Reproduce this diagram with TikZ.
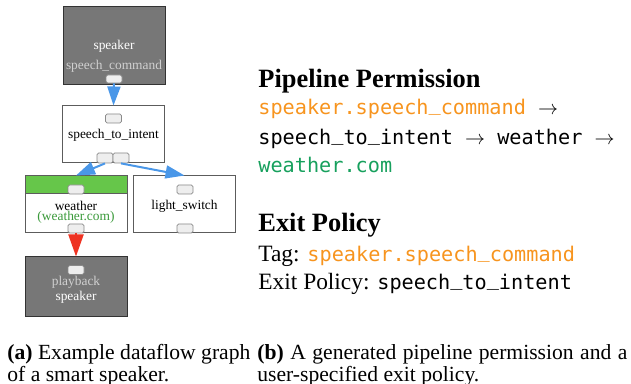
\documentclass[tikz,border=0pt]{standalone}
\usepackage{fontspec}
\setmainfont{Liberation Serif}
\setmonofont{DejaVu Sans Mono}
\usetikzlibrary{arrows.meta}
\definecolor{boxgray}{HTML}{777777}
\definecolor{boxdark}{HTML}{333333}
\definecolor{hdrgreen}{HTML}{66C64A}
\definecolor{urlgreen}{HTML}{3A9A3A}
\definecolor{portfill}{HTML}{EEEEEE}
\definecolor{portdraw}{HTML}{8A8A8A}
\definecolor{flowblue}{HTML}{4A97E8}
\definecolor{flowred}{HTML}{EE3322}
\definecolor{tagorange}{HTML}{F7941E}
\definecolor{monogreen}{HTML}{17A05D}
\definecolor{lightlabel}{HTML}{D0D0D0}
\newcommand{\nodefont}{\fontsize{6.7pt}{7.5pt}\selectfont}
\newcommand{\mus}{\raisebox{0.2em}{\_}}
\tikzset{
  darkbox/.style={draw=boxdark, fill=boxgray, line width=0.5pt, minimum width=51pt, inner sep=0pt},
  whitebox/.style={draw=boxdark!80, fill=white, line width=0.5pt, minimum width=51pt, inner sep=0pt},
  port/.style={draw=portdraw, fill=portfill, rounded corners=0.8pt, line width=0.4pt, minimum width=8pt, minimum height=4.5pt, inner sep=0pt},
  lbl/.style={font=\nodefont, inner sep=0pt},
  bluearrow/.style={draw=flowblue, line width=1pt, -{Triangle[width=6.5pt,length=9.5pt]}, fill=flowblue},
  redarrow/.style={draw=flowred, line width=1pt, -{Triangle[width=7.5pt,length=11pt]}, fill=flowred},
  rtext/.style={anchor=base west, inner sep=0pt},
}
\begin{document}
\begin{tikzpicture}[x=0.5pt,y=-0.5pt]
\useasboundingbox (0,0) rectangle (631,384);
% speaker
\node[darkbox, minimum height=39pt] (spk) at (114,46) {};
\node[lbl, text=white] (spkname) at (114,46) {speaker};
\node[lbl, text=lightlabel] (spkcmd) at (114,66) {speech\_command};
\node[port, minimum height=4pt] (spkp) at (114,79) {};
% speech_to_intent
\node[whitebox, minimum height=28.5pt] (sti) at (113.5,134.5) {};
\node[port] (stit) at (113.5,118.5) {};
\node[lbl] (stiname) at (113.5,135.5) {speech\_to\_intent};
\node[port, minimum height=5pt] (stib1) at (105,158) {};
\node[port, minimum height=5pt] (stib2) at (121,158) {};
% weather
\node[whitebox, minimum height=28.5pt] (wth) at (76,204.5) {};
\node[draw=boxdark!80, fill=hdrgreen, line width=0.5pt, minimum width=51pt, minimum height=9pt, inner sep=0pt] (wthh) at (76,185) {};
\node[port] (wtht) at (76,189.5) {};
\node[lbl] (wthname) at (76,205.5) {weather};
\node[lbl, text=urlgreen] (wthurl) at (76,217.5) {(weather.com)};
\node[port] (wthb) at (76,228.5) {};
% light_switch
\node[whitebox, minimum height=28.5pt] (ls) at (184.5,204.5) {};
\node[port] (lst) at (185,189.5) {};
\node[lbl] (lsname) at (184.5,206) {light\_switch};
\node[port] (lsb) at (185,228.5) {};
% playback speaker
\node[darkbox, minimum height=30pt] (pb) at (76,287) {};
\node[port] (pbp) at (76,270) {};
\node[lbl, text=lightlabel] (pbname) at (76,282) {playback};
\node[lbl, text=white] (pbspk) at (76,297) {speaker};
% connectors
\draw[bluearrow] (spkp.south) -- (sti.north);
\draw[bluearrow] (stib1.south) -- (wth.north);
\draw[bluearrow] (stib2.south) -- (ls.north);
\draw[redarrow] (wthb.south) -- (pb.north);
% right text
\node[rtext, font=\fontsize{13.2pt}{15pt}\selectfont\bfseries] (pph) at (258,88) {Pipeline Permission};
\node[rtext, font=\fontsize{10.1pt}{12pt}\selectfont\ttfamily] (pp1) at (258,115) {\textcolor{tagorange}{speaker.speech\mus command} $\rightarrow$};
\node[rtext, font=\fontsize{10.1pt}{12pt}\selectfont\ttfamily] (pp2) at (258,145) {speech\mus to\mus intent $\rightarrow$ weather $\rightarrow$};
\node[rtext, font=\fontsize{10.1pt}{12pt}\selectfont\ttfamily, text=monogreen] (pp3) at (258,173) {weather.com};
\node[rtext, font=\fontsize{13.2pt}{15pt}\selectfont\bfseries] (eph) at (258,232) {Exit Policy};
\node[rtext, font=\fontsize{11.7pt}{14pt}\selectfont] (ep1) at (258,262) {Tag: {\fontsize{10.1pt}{12pt}\selectfont\ttfamily\textcolor{tagorange}{speaker.speech\mus command}}};
\node[rtext, font=\fontsize{11.7pt}{14pt}\selectfont] (ep2) at (258,290) {Exit Policy: {\fontsize{10.1pt}{12pt}\selectfont\ttfamily speech\mus to\mus intent}};
% captions
\node[rtext, font=\fontsize{10.8pt}{13pt}\selectfont] (ca1) at (7,359) {\hbox to 121.5pt{\textbf{(a)} Example dataflow graph}};
\node[rtext, font=\fontsize{10.8pt}{13pt}\selectfont] (ca2) at (7,381) {of a smart speaker.};
\node[rtext, font=\fontsize{10.8pt}{13pt}\selectfont] (cb1) at (257,359) {\hbox to 185pt{\textbf{(b)} A generated pipeline permission and a}};
\node[rtext, font=\fontsize{10.8pt}{13pt}\selectfont] (cb2) at (257,381) {user-specified exit policy.};
\end{tikzpicture}
\end{document}
